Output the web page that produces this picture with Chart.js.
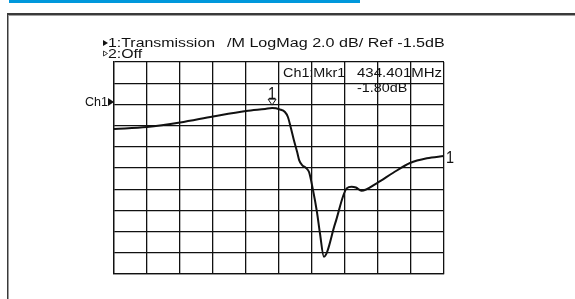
<!DOCTYPE html>
<html>
<head>
<meta charset="utf-8">
<script src="https://cdn.jsdelivr.net/npm/chart.js@4"></script>
<style>
  body { margin: 0; background: #fff; }
  #wrap { width: 575px; height: 299px; }
</style>
</head>
<body>
<div id="wrap"><canvas id="myChart" width="575" height="299"></canvas></div>
<script>
// trace, x in grid divisions (0..10), y in dB
const xDiv = [0, 1.0, 2.0, 3.0, 4.0, 4.58, 4.79, 5.03, 5.18, 5.27, 5.36, 5.45, 5.55, 5.61, 5.70, 5.82, 5.91, 6.03, 6.15, 6.24, 6.36, 6.70, 7.05, 7.20, 7.33, 7.50, 7.96, 8.45, 8.97, 9.48, 10];
const traceDb = [-3.82, -3.63, -3.21, -2.64, -2.12, -1.93, -1.85, -1.98, -2.22, -2.69, -3.73, -4.86, -5.99, -6.75, -7.22, -7.5, -7.88, -9.58, -11.65, -13.63, -15.87, -12.75, -9.42, -9.26, -9.34, -9.64, -8.94, -7.97, -7.03, -6.58, -6.37];

// scale: 2 dB/div, ref -1.5 dB two divisions below top
const refDb = -1.5;
const yTicks = [2.5, 0.5, -1.5, -3.5, -5.5, -7.5, -9.5, -11.5, -13.5, -15.5, -17.5];
const xTicks = [0, 1, 2, 3, 4, 5, 6, 7, 8, 9, 10];

const markerX = 4.79;
const markerDb = -1.85;

// header texts
const headerTrace = '1:Transmission';
const headerFormat = '/M LogMag 2.0 dB/ Ref -1.5dB';
const headerLine2 = '2:Off';
const mkrLabel = 'Ch1:Mkr1';
const mkrFreq = '434.401MHz';
const mkrValue = '-1.80dB';

const points = xDiv.map((x, i) => ({ x: x, y: traceDb[i] }));

function stretchText(ctx, txt, x, y, sx) {
    ctx.save();
    ctx.translate(x, y);
    ctx.scale(sx, 1);
    ctx.fillText(txt, 0, 0);
    ctx.restore();
}

const decor = {
    id: 'decor',
    beforeDraw(chart) {
        const ctx = chart.ctx;
        ctx.save();
        // blue header bar
        ctx.fillStyle = '#0098dc';
        ctx.fillRect(9, 0, 351, 3);
        // frame
        ctx.fillStyle = '#3a3a3a';
        ctx.fillRect(7, 13, 568, 2);
        ctx.fillStyle = '#a0a0a0';
        ctx.fillRect(9, 15, 566, 1);
        ctx.fillStyle = '#3a3a3a';
        ctx.fillRect(7, 13, 1.5, 286);
        ctx.restore();
    },
    afterDraw(chart) {
        const ctx = chart.ctx;
        const xs = chart.scales.x, ys = chart.scales.y;
        ctx.save();
        ctx.fillStyle = '#111';
        ctx.strokeStyle = '#111';
        ctx.font = '12.5px "Liberation Sans", Arial, sans-serif';
        ctx.textBaseline = 'alphabetic';

        // header lines
        ctx.beginPath();
        ctx.moveTo(103, 40); ctx.lineTo(108, 43); ctx.lineTo(103, 46); ctx.closePath();
        ctx.fill();
        stretchText(ctx, headerTrace, 108, 47, 1.27);
        stretchText(ctx, headerFormat, 227, 47, 1.29);
        ctx.lineWidth = 0.8;
        ctx.beginPath();
        ctx.moveTo(103.5, 51); ctx.lineTo(107.5, 53.5); ctx.lineTo(103.5, 56); ctx.closePath();
        ctx.stroke();
        stretchText(ctx, headerLine2, 108, 57.5, 1.27);

        // marker readout
        stretchText(ctx, mkrLabel, 283, 77, 1.15);
        stretchText(ctx, mkrFreq, 357, 77, 1.2);
        stretchText(ctx, mkrValue, 357, 92, 1.15);

        // Ch1 reference arrow
        const refY = ys.getPixelForValue(refDb) - 2.5;
        stretchText(ctx, 'Ch1', 85, refY + 4, 1.0);
        ctx.beginPath();
        ctx.moveTo(108, refY - 4); ctx.lineTo(114, refY); ctx.lineTo(108, refY + 4); ctx.closePath();
        ctx.fill();

        // marker triangle and label
        const mx = xs.getPixelForValue(markerX);
        const my = ys.getPixelForValue(markerDb);
        ctx.lineWidth = 1;
        ctx.beginPath();
        ctx.moveTo(mx - 4, my - 9); ctx.lineTo(mx + 4, my - 9); ctx.lineTo(mx, my - 3); ctx.closePath();
        ctx.fillStyle = '#fff';
        ctx.fill();
        ctx.stroke();
        ctx.fillStyle = '#111';
        ctx.font = '17px "Liberation Sans", Arial, sans-serif';
        ctx.textAlign = 'center';
        stretchText(ctx, '1', mx, my - 9, 0.85);

        // trace end label
        const ex = xs.getPixelForValue(xDiv[xDiv.length - 1]);
        const ey = ys.getPixelForValue(traceDb[traceDb.length - 1]);
        ctx.textAlign = 'left';
        stretchText(ctx, '1', ex + 2, ey + 7, 0.85);
        ctx.restore();
    }
};

const ctx = document.getElementById('myChart').getContext('2d');
const chart = new Chart(ctx, {
    type: 'line',
    data: {
        datasets: [{
            data: points,
            borderColor: '#111',
            borderWidth: 2,
            pointRadius: 0,
            cubicInterpolationMode: 'monotone',
            fill: false
        }]
    },
    options: {
        responsive: false,
        animation: false,
        events: [],
        layout: { padding: { left: 114, right: 131, top: 62, bottom: 25 } },
        plugins: { legend: { display: false }, tooltip: { enabled: false } },
        scales: {
            x: {
                type: 'linear',
                min: 0, max: 10,
                afterBuildTicks: (s) => { s.ticks = xTicks.map(v => ({ value: v })); },
                ticks: { display: false },
                grid: { color: '#111', lineWidth: 1.3, drawTicks: false },
                border: { color: '#111', width: 1.3 }
            },
            y: {
                type: 'linear',
                min: -17.5, max: 2.5,
                afterBuildTicks: (s) => { s.ticks = yTicks.map(v => ({ value: v })); },
                ticks: { display: false },
                grid: { color: '#111', lineWidth: 1.3, drawTicks: false },
                border: { color: '#111', width: 1.3 }
            }
        }
    },
    plugins: [decor]
});
</script>
</body>
</html>
